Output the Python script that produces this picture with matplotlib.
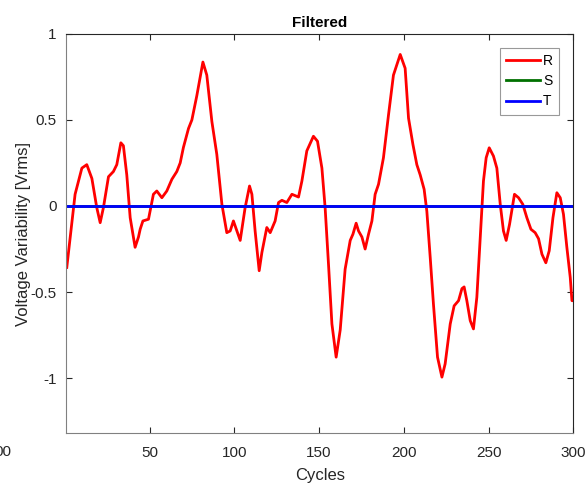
import matplotlib.pyplot as plt
import numpy as np

plt.rcParams['font.family'] = ['Liberation Sans', 'DejaVu Sans']

# traced R phase (cycle, voltage)
cycles = [1.2, 6.1, 10.1, 13, 16, 18.9, 20.9, 22.8, 25.8, 28.7, 30.7, 33.1, 34.6, 36.6,
          38.6, 41.5, 43.5, 44.5, 46.1, 49.4, 52.3, 54.3, 57.3, 60.2, 63.2, 66.1, 68.1,
          70.0, 73.0, 75, 77.9, 81.5, 83.8, 86.8, 89.7, 92.7, 95.6, 97.6, 99.5, 103.5,
          106.4, 109, 110.4, 112.3, 114.7, 116.3, 119.2, 121.2, 124.1, 126.1, 128.1, 131,
          134, 137.9, 139.9, 142.8, 146.7, 149.1, 151.7, 153.6, 155.6, 157.6, 160.1, 162.5,
          165.4, 168.4, 170, 171.9, 173.3, 175.3, 177.2, 179.2, 181.2, 183.1, 185.1, 188,
          191, 193.9, 197.9, 200.8, 202.8, 205.4, 207.7, 209.7, 212, 213.6, 215.6, 217.5,
          219.9, 222.5, 224.4, 227.4, 229.7, 232.3, 234.3, 235.6, 237.2, 239.2, 241.1,
          243.1, 245.1, 247, 248.6, 250.4, 252.9, 254.9, 256.9, 258.8, 260.4, 262.4, 265.3,
          267.7, 270.2, 272.6, 275, 277.5, 279.5, 281.5, 283.8, 285.8, 288, 290.3, 292.3,
          294.2, 296.2, 298.2, 299.2, 300]
r_vals = [-0.357, 0.068, 0.22, 0.24, 0.16, -0.01, -0.097, -0.01, 0.17, 0.20, 0.24, 0.367,
          0.35, 0.18, -0.068, -0.24, -0.18, -0.135, -0.087, -0.077, 0.068, 0.087, 0.048,
          0.087, 0.155, 0.20, 0.25, 0.34, 0.45, 0.50, 0.64, 0.836, 0.76, 0.49, 0.30, 0.01,
          -0.155, -0.145, -0.087, -0.20, -0.01, 0.116, 0.068, -0.145, -0.376, -0.27, -0.125,
          -0.155, -0.087, 0.02, 0.033, 0.02, 0.068, 0.052, 0.145, 0.32, 0.405, 0.376, 0.22,
          -0.01, -0.34, -0.685, -0.878, -0.72, -0.367, -0.20, -0.164, -0.10, -0.145, -0.18,
          -0.25, -0.164, -0.087, 0.068, 0.126, 0.28, 0.53, 0.76, 0.88, 0.80, 0.51, 0.357,
          0.24, 0.18, 0.097, -0.03, -0.30, -0.57, -0.878, -0.994, -0.917, -0.685, -0.58,
          -0.55, -0.48, -0.47, -0.55, -0.666, -0.714, -0.53, -0.18, 0.145, 0.28, 0.338,
          0.29, 0.22, 0.01, -0.145, -0.20, -0.106, 0.068, 0.048, 0.01, -0.068, -0.135,
          -0.155, -0.19, -0.28, -0.33, -0.26, -0.068, 0.077, 0.048, -0.048, -0.24, -0.415,
          -0.55, -0.55]
s_cycles = [1, 300]
s_vals = [0, 0]
t_cycles = [1, 300]
t_vals = [0, 0]

x_ticks = [50, 100, 150, 200, 250, 300]
y_ticks = [-1, -0.5, 0, 0.5, 1]
y_labels = ['-1', '-0.5', '0', '0.5', '1']

fig = plt.figure(figsize=(5.88, 4.83), dpi=100)
ax = fig.add_axes([0.113, 0.103, 0.862, 0.827])

ax.plot(cycles, r_vals, color='#ff0000', linewidth=2, label='R',
        solid_joinstyle='round')
ax.plot(s_cycles, s_vals, color='#007000', linewidth=2, label='S')
ax.plot(t_cycles, t_vals, color='#0000ff', linewidth=2, label='T')

ax.set_xlim(1, 300)
ax.set_ylim(-1.32, 1)
ax.set_xticks(x_ticks)
ax.set_yticks(y_ticks)
ax.set_yticklabels(y_labels)

tc = '#262626'
ax.tick_params(direction='in', top=True, right=True, length=4, width=0.8,
               labelsize=11, colors=tc)
ax.tick_params(axis='x', pad=9)
ax.tick_params(axis='y', pad=7)
for s in ax.spines.values():
    s.set_color('#262626')
    s.set_linewidth(0.8)
ax.spines['left'].set_color('#808080')
ax.spines['bottom'].set_color('#808080')

ax.set_title('Filtered', fontsize=11, fontweight='bold', color='black', pad=5)
ax.set_xlabel('Cycles', fontsize=12, color=tc, labelpad=6)
ax.set_ylabel('Voltage Variability [Vrms]', fontsize=12, color=tc, labelpad=0)

leg = ax.legend(loc='upper right', fontsize=10, frameon=True, fancybox=False,
                handlelength=2.4, handletextpad=0.25, borderpad=0.45, labelspacing=0.45,
                borderaxespad=1.0)
leg.get_frame().set_edgecolor('#808080')
leg.get_frame().set_linewidth(0.8)

# stray tick label from the neighbouring panel on the left
fig.text(11 / 588, 1 - 452 / 483, '00', ha='right', va='center', fontsize=11, color=tc)

fig.savefig('out.png', dpi=100)
